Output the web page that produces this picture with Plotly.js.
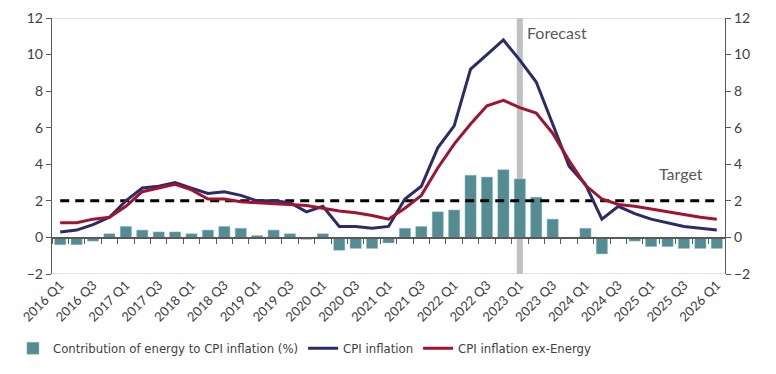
<!DOCTYPE html>
<html>
<head>
<meta charset="utf-8">
<script src="https://cdn.plot.ly/plotly-3.0.1.min.js"></script>
<style>html,body{margin:0;padding:0;background:#fff;}#chart{width:776px;height:374px;}</style>
</head>
<body>
<div id="chart"></div>
<script>
const quarters = [
 "2016 Q1","2016 Q2","2016 Q3","2016 Q4",
 "2017 Q1","2017 Q2","2017 Q3","2017 Q4",
 "2018 Q1","2018 Q2","2018 Q3","2018 Q4",
 "2019 Q1","2019 Q2","2019 Q3","2019 Q4",
 "2020 Q1","2020 Q2","2020 Q3","2020 Q4",
 "2021 Q1","2021 Q2","2021 Q3","2021 Q4",
 "2022 Q1","2022 Q2","2022 Q3","2022 Q4",
 "2023 Q1","2023 Q2","2023 Q3","2023 Q4",
 "2024 Q1","2024 Q2","2024 Q3","2024 Q4",
 "2025 Q1","2025 Q2","2025 Q3","2025 Q4",
 "2026 Q1"];

const energyContribution = [
 -0.4,-0.4,-0.2,0.2,
 0.6,0.4,0.3,0.3,
 0.2,0.4,0.6,0.5,
 0.1,0.4,0.2,-0.1,
 0.2,-0.7,-0.6,-0.6,
 -0.3,0.5,0.6,1.4,
 1.5,3.4,3.3,3.7,
 3.2,2.2,1.0,0.0,
 0.5,-0.9,0.0,-0.2,
 -0.5,-0.5,-0.6,-0.6,
 -0.6];

const cpiInflation = [
 0.3,0.4,0.7,1.1,
 2.0,2.7,2.8,3.0,
 2.7,2.4,2.5,2.3,
 2.0,2.0,1.9,1.4,
 1.7,0.6,0.6,0.5,
 0.6,2.1,2.8,4.9,
 6.1,9.2,10.0,10.8,
 9.7,8.5,6.2,3.9,
 2.9,1.0,1.7,1.3,
 1.0,0.8,0.6,0.5,
 0.4];

const cpiExEnergy = [
 0.8,0.8,1.0,1.1,
 1.7,2.5,2.7,2.9,
 2.6,2.1,2.1,1.95,
 1.9,1.85,1.8,1.75,
 1.6,1.45,1.35,1.2,
 1.0,1.6,2.3,3.8,
 5.1,6.2,7.2,7.5,
 7.1,6.8,5.7,4.2,
 2.85,2.1,1.8,1.7,
 1.55,1.4,1.25,1.1,
 1.0];

const inflationTarget = 2;
const forecastStart = "2023 Q1";
const tickLabels = quarters.filter((q, i) => i % 2 === 0);

const FONT = "Lato, 'Open Sans', sans-serif";
const NARROW = "'Liberation Sans Narrow', 'DejaVu Sans Condensed', Lato, sans-serif";
const TXT = "#404040";
const AX = "#595959";

const traces = [
 {type:"bar", x:quarters, y:energyContribution, name:"Contribution of energy to CPI inflation (%)",
  marker:{color:"#538d93", line:{color:"#8fb7bb", width:0.5}}, xaxis:"x", yaxis:"y"},
 {type:"scatter", mode:"lines", x:quarters, y:quarters.map(()=>inflationTarget), showlegend:false,
  hoverinfo:"skip", line:{color:"#000000", width:3, dash:"9px,6px"}, xaxis:"x", yaxis:"y"},
 {type:"scatter", mode:"lines", x:quarters, y:cpiInflation, name:"CPI inflation",
  line:{color:"#2b2b6b", width:3}, xaxis:"x", yaxis:"y"},
 {type:"scatter", mode:"lines", x:quarters, y:cpiExEnergy, name:"CPI inflation ex-Energy",
  line:{color:"#a0142f", width:3}, xaxis:"x", yaxis:"y"},
 {type:"scatter", mode:"lines", x:quarters, y:quarters.map(()=>null), showlegend:false,
  hoverinfo:"skip", xaxis:"x2", yaxis:"y"},
 {type:"scatter", mode:"lines", x:[quarters[0]], y:[null], showlegend:false,
  hoverinfo:"skip", xaxis:"x", yaxis:"y2"}
];

const yr = [-2, 12];
const layout = {
 width:776, height:374,
 margin:{l:52, r:51, t:18, b:100, autoexpand:false},
 paper_bgcolor:"#fff", plot_bgcolor:"#fff",
 font:{family:FONT, color:TXT, size:13},
 bargap:0.32,
 showlegend:true,
 legend:{orientation:"h", x:-0.058, xanchor:"left", y:-0.29, yanchor:"middle",
   font:{family:NARROW, size:13, color:TXT}, itemwidth:30, tracegroupgap:0},
 xaxis:{type:"category", categoryorder:"array", categoryarray:quarters, range:[-0.5, quarters.length-0.5],
   tickmode:"array", tickvals:tickLabels, ticktext:tickLabels, tickangle:-45, automargin:false,
   showline:false, ticks:"", showgrid:false, zeroline:false,
   tickfont:{family:FONT, size:13, color:TXT}, anchor:"y", fixedrange:true},
 xaxis2:{type:"category", categoryorder:"array", categoryarray:quarters, range:[-0.5, quarters.length-0.5],
   overlaying:"x", anchor:"free", position:(0-yr[0])/(yr[1]-yr[0]), automargin:false,
   showline:true, linecolor:AX, linewidth:1.2, ticks:"outside", ticklen:5, tickcolor:AX,
   tickson:"boundaries", dtick:1, showticklabels:false, showgrid:false, zeroline:false},
 yaxis:{range:yr, dtick:2, tick0:-2, showline:true, linecolor:AX, linewidth:1.2, mirror:false, automargin:false,
   ticks:"outside", ticklen:5, tickcolor:AX, showgrid:false, zeroline:false,
   tickfont:{family:FONT, size:14, color:TXT}},
 yaxis2:{range:yr, dtick:2, tick0:-2, overlaying:"y", side:"right", anchor:"x", automargin:false,
   showline:true, linecolor:AX, linewidth:1.2, ticks:"outside", ticklen:5, tickcolor:AX,
   showgrid:false, zeroline:false, tickfont:{family:FONT, size:14, color:TXT}},
 shapes:[
   {type:"line", xref:"paper", yref:"y", x0:0, x1:1, y0:yr[1], y1:yr[1], line:{color:"#d9d9d9", width:1.5}, layer:"below"},
   {type:"line", xref:"paper", yref:"y", x0:0, x1:1, y0:yr[0], y1:yr[0], line:{color:"#d9d9d9", width:1.5}, layer:"below"},
   {type:"line", xref:"x", yref:"paper", x0:forecastStart, x1:forecastStart, y0:0, y1:1, line:{color:"#c0c0c0", width:6}, layer:"below"}
 ],
 annotations:[
   {text:"Forecast", xref:"x", yref:"y", x:forecastStart, y:11.2, xanchor:"left", yanchor:"middle", xshift:5,
    showarrow:false, font:{family:FONT, size:16, color:"#595959"}},
   {text:"Target", xref:"paper", yref:"y", x:0.97, y:3.5, xanchor:"right", yanchor:"middle",
    showarrow:false, font:{family:FONT, size:16, color:"#595959"}}
 ]
};

Plotly.newPlot("chart", traces, layout, {displayModeBar:false, staticPlot:true});
</script>
</body>
</html>
